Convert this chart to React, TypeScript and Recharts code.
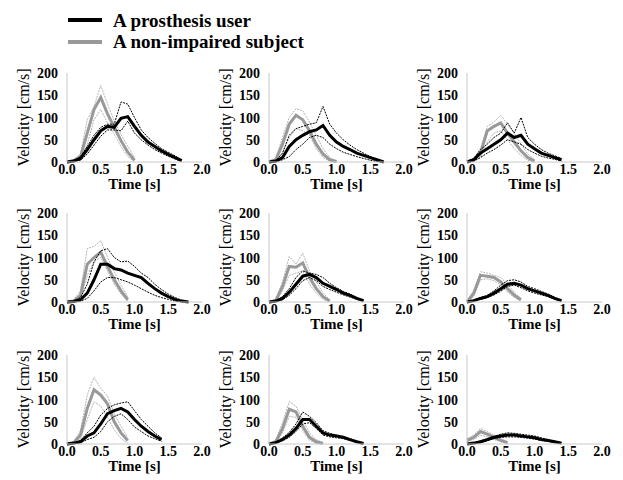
import { LineChart, Line, XAxis, YAxis } from "recharts";

// time grid in seconds, shared by all nine panels
const TIME = [0, 0.1, 0.2, 0.3, 0.4, 0.5, 0.6, 0.7, 0.8, 0.9, 1.0, 1.1, 1.2, 1.3, 1.4, 1.5, 1.6, 1.7, 1.8];

const X_TICKS = [0, 0.5, 1, 1.5, 2];
const Y_TICKS = [0, 50, 100, 150, 200];

// prosthesis user, one row per panel (left to right, top to bottom)
const userMean = [
  [0, 2, 8, 28, 50, 70, 80, 78, 98, 102, 80, 60, 45, 35, 25, 17, 10, 3],
  [0, 2, 10, 35, 50, 60, 68, 72, 82, 60, 45, 35, 28, 20, 15, 10, 5, 0],
  [0, 5, 20, 30, 40, 50, 65, 55, 60, 40, 30, 20, 15, 10, 5],
  [0, 1, 5, 20, 50, 85, 85, 75, 72, 65, 60, 55, 42, 30, 20, 12, 6, 2, 0],
  [0, 2, 8, 22, 40, 58, 62, 55, 42, 35, 28, 20, 15, 8, 3],
  [0, 3, 8, 12, 20, 30, 40, 42, 38, 30, 25, 20, 15, 8, 3],
  [0, 2, 5, 18, 25, 45, 68, 75, 80, 72, 55, 40, 28, 18, 10],
  [0, 3, 10, 20, 35, 55, 55, 40, 25, 20, 18, 15, 10, 5, 1],
  [0, 2, 5, 10, 15, 18, 20, 20, 18, 16, 14, 10, 8, 5, 2],
];
const userHigh = [
  [0, 4, 12, 35, 60, 78, 85, 85, 135, 130, 100, 72, 55, 42, 30, 22, 14, 5],
  [0, 3, 20, 60, 75, 80, 85, 88, 125, 85, 65, 50, 38, 28, 20, 12, 6, 0],
  [0, 8, 28, 40, 55, 65, 88, 65, 100, 55, 40, 28, 20, 14, 8],
  [0, 3, 10, 40, 90, 115, 120, 100, 90, 92, 80, 65, 55, 40, 28, 18, 10, 4, 0],
  [0, 3, 12, 30, 55, 70, 65, 62, 55, 42, 32, 24, 18, 10, 4],
  [0, 4, 10, 15, 25, 38, 48, 50, 45, 35, 30, 24, 18, 10, 4],
  [0, 3, 8, 25, 40, 65, 80, 88, 92, 95, 75, 55, 40, 25, 14],
  [0, 4, 14, 26, 45, 72, 62, 48, 30, 24, 20, 16, 12, 6, 2],
  [0, 3, 7, 12, 17, 22, 25, 24, 22, 20, 18, 14, 10, 6, 3],
];
const userLow = [
  [0, 1, 4, 18, 38, 58, 72, 72, 70, 92, 65, 50, 38, 28, 20, 13, 7, 1],
  [0, 0, 5, 12, 28, 40, 55, 60, 55, 40, 30, 22, 17, 12, 8, 4, 1, 0],
  [0, 2, 10, 20, 28, 38, 50, 45, 40, 28, 20, 13, 9, 6, 2],
  [0, 0, 2, 8, 25, 45, 55, 55, 50, 45, 38, 30, 22, 15, 10, 6, 2, 0, 0],
  [0, 1, 5, 15, 30, 48, 55, 48, 35, 28, 22, 16, 11, 6, 2],
  [0, 2, 6, 10, 16, 24, 35, 38, 32, 25, 20, 16, 12, 6, 2],
  [0, 1, 3, 10, 15, 28, 50, 62, 68, 55, 38, 28, 18, 12, 6],
  [0, 2, 7, 15, 28, 45, 48, 35, 20, 16, 14, 12, 8, 4, 0],
  [0, 1, 3, 7, 12, 15, 16, 16, 15, 13, 11, 8, 6, 3, 1],
];

// non-impaired subject
const ctrlMean = [
  [0, 3, 12, 65, 118, 145, 108, 78, 48, 22, 4],
  [0, 5, 40, 85, 105, 95, 70, 40, 18, 5, 1],
  [0, 5, 20, 70, 80, 88, 65, 45, 25, 10, 2],
  [0, 2, 15, 85, 100, 112, 80, 50, 25, 5],
  [0, 3, 35, 80, 78, 88, 55, 30, 12, 2],
  [0, 20, 60, 58, 55, 45, 30, 15, 5],
  [0, 3, 20, 80, 122, 110, 90, 50, 25, 8],
  [0, 5, 35, 78, 72, 40, 15, 5, 1],
  [8, 15, 28, 22, 15, 8, 3],
];
const ctrlHigh = [
  [0, 5, 18, 95, 125, 172, 130, 92, 62, 35, 10],
  [0, 8, 55, 100, 120, 115, 90, 60, 30, 10, 2],
  [0, 8, 30, 80, 90, 105, 85, 65, 40, 18, 5],
  [0, 5, 25, 120, 125, 138, 100, 68, 38, 12],
  [0, 5, 45, 102, 85, 110, 70, 45, 20, 5],
  [0, 25, 68, 65, 60, 55, 40, 22, 8],
  [0, 5, 30, 110, 150, 125, 108, 68, 40, 15],
  [0, 8, 48, 95, 85, 55, 25, 10, 3],
  [12, 20, 35, 28, 20, 12, 5],
];
const ctrlLow = [
  [0, 1, 6, 40, 95, 118, 88, 62, 35, 12, 0],
  [0, 2, 20, 55, 75, 70, 60, 30, 10, 2, 0],
  [0, 2, 10, 45, 65, 70, 50, 30, 15, 4, 0],
  [0, 1, 8, 60, 90, 100, 70, 40, 18, 2],
  [0, 1, 25, 60, 65, 70, 40, 20, 6, 0],
  [0, 12, 50, 52, 48, 38, 22, 10, 2],
  [0, 1, 12, 55, 95, 85, 60, 32, 12, 2],
  [0, 2, 25, 62, 60, 30, 8, 2, 0],
  [5, 10, 20, 16, 10, 5, 1],
];

const COL_X = [67, 269, 467];
const ROW_Y = [73, 213, 355];
const PLOT_W = 135;
const PLOT_H = 89;
const FONT = "Liberation Serif, serif";

const panelRows = (i: number) =>
  TIME.map((t, k) => ({
    t,
    um: userMean[i][k] ?? null,
    uh: userHigh[i][k] ?? null,
    ul: userLow[i][k] ?? null,
    cm: ctrlMean[i][k] ?? null,
    ch: ctrlHigh[i][k] ?? null,
    cl: ctrlLow[i][k] ?? null,
  }));

// ticks and labels drawn by hand so the serif face is set on each text
const XTick = ({ x, y, payload }: any) => (
  <text x={x} y={y} dy="0.71em" textAnchor="middle" style={{ fontFamily: FONT, fontSize: 14, fontWeight: 700 }} fill="#000">
    {Number(payload.value).toFixed(1)}
  </text>
);

const YTick = ({ x, y, payload }: any) => (
  <text x={x} y={y} dy="0.36em" textAnchor="end" style={{ fontFamily: FONT, fontSize: 14, fontWeight: 700 }} fill="#000">
    {payload.value}
  </text>
);

const TimeLabel = ({ viewBox }: any) => (
  <text
    x={viewBox.x + viewBox.width / 2}
    y={viewBox.y + viewBox.height - 13}
    textAnchor="middle"
    style={{ fontFamily: FONT, fontSize: 15, fontWeight: 700 }}
    fill="#000"
  >
    Time [s]
  </text>
);

const VelocityLabel = ({ viewBox }: any) => {
  const cx = viewBox.x + 16;
  const cy = viewBox.y + viewBox.height / 2;
  return (
    <text
      x={cx}
      y={cy}
      dy="0.36em"
      transform={`rotate(-90 ${cx} ${cy})`}
      textAnchor="middle"
      style={{ fontFamily: FONT, fontSize: 16 }}
      fill="#000"
    >
      Velocity [cm/s]
    </text>
  );
};

function Panel({ index }: { index: number }) {
  const col = index % 3;
  const row = Math.floor(index / 3);
  return (
    <div style={{ position: "absolute", left: COL_X[col] - 60, top: ROW_Y[row] - 10 }}>
      <LineChart
        width={60 + PLOT_W + 16}
        height={10 + PLOT_H + 40}
        data={panelRows(index)}
        margin={{ top: 10, right: 16, bottom: 0, left: 0 }}
      >
        <XAxis
          dataKey="t"
          type="number"
          domain={[0, 2]}
          ticks={X_TICKS}
          interval={0}
          height={40}
          tickLine={false}
          tickSize={0}
          tickMargin={2}
          stroke="#c8c8c8"
          tick={XTick}
          label={TimeLabel}
        />
        <YAxis
          type="number"
          domain={[0, 200]}
          ticks={Y_TICKS}
          interval={0}
          width={60}
          tickLine={false}
          tickSize={0}
          tickMargin={9}
          stroke="#c8c8c8"
          tick={YTick}
          label={VelocityLabel}
        />
        <Line dataKey="ch" stroke="#b4b4b4" strokeWidth={1} strokeDasharray="2 1" dot={false} isAnimationActive={false} />
        <Line dataKey="cl" stroke="#b4b4b4" strokeWidth={1} strokeDasharray="2 1" dot={false} isAnimationActive={false} />
        <Line dataKey="cm" stroke="#999999" strokeWidth={3} dot={false} isAnimationActive={false} />
        <Line dataKey="uh" stroke="#000" strokeWidth={1} strokeDasharray="2 1" dot={false} isAnimationActive={false} />
        <Line dataKey="ul" stroke="#000" strokeWidth={1} strokeDasharray="2 1" dot={false} isAnimationActive={false} />
        <Line dataKey="um" stroke="#000" strokeWidth={3} dot={false} isAnimationActive={false} />
      </LineChart>
    </div>
  );
}

export default function App() {
  return (
    <div style={{ position: "absolute", left: 0, top: 0, width: 623, height: 480, background: "#fff" }}>
      <svg width={623} height={60} style={{ position: "absolute", left: 0, top: 0 }}>
        <line x1={68} x2={102} y1={20} y2={20} stroke="#000" strokeWidth={4} />
        <text x={113} y={27} style={{ fontFamily: FONT, fontSize: 19, fontWeight: 700 }} fill="#000">
          A prosthesis user
        </text>
        <line x1={68} x2={102} y1={42} y2={42} stroke="#999999" strokeWidth={4} />
        <text x={113} y={48} style={{ fontFamily: FONT, fontSize: 19, fontWeight: 700 }} fill="#000">
          A non-impaired subject
        </text>
      </svg>
      {userMean.map((_, i) => (
        <Panel key={i} index={i} />
      ))}
    </div>
  );
}
